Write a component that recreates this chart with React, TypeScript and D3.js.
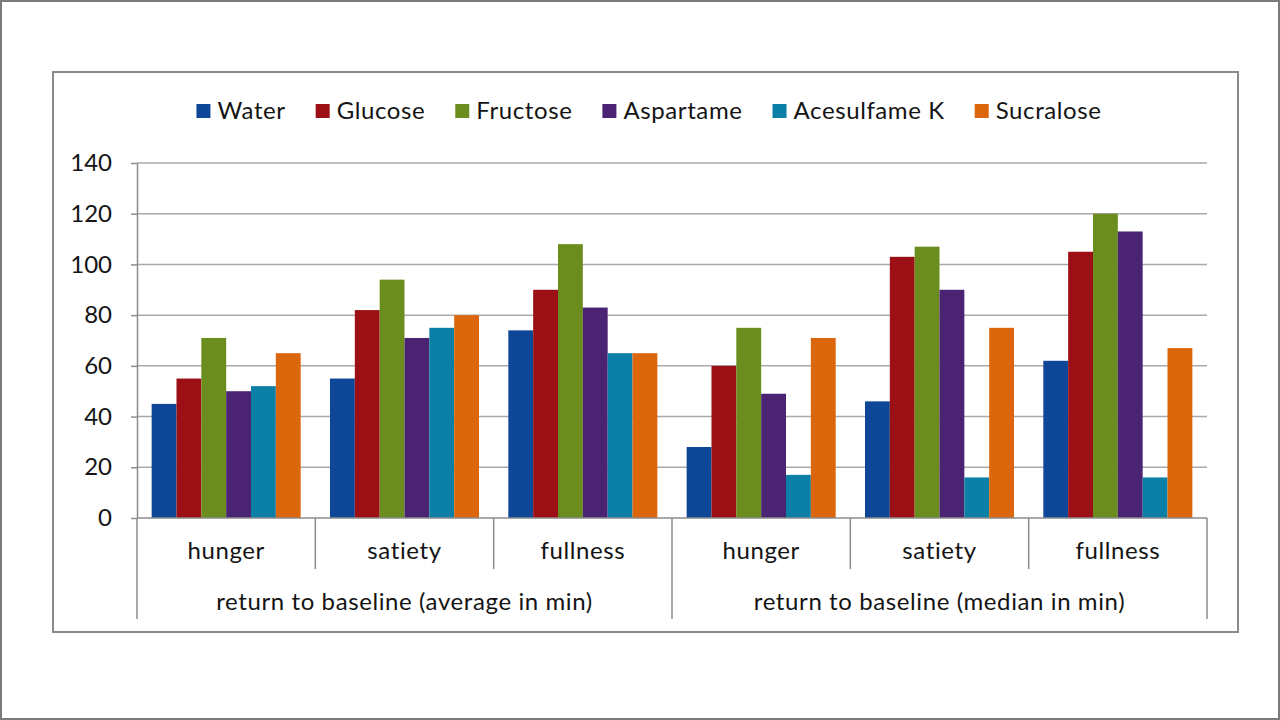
import { useEffect, useRef } from "react";
import * as d3 from "d3";

const series = ["Water", "Glucose", "Fructose", "Aspartame", "Acesulfame K", "Sucralose"];
const colors = ["#0f4798", "#9c0f14", "#6a8d1e", "#4a2472", "#0c7fa6", "#dc660b"];

const categories = ["hunger", "satiety", "fullness", "hunger", "satiety", "fullness"];
const groups = ["return to baseline (average in min)", "return to baseline (median in min)"];

// one array per series, same order as categories
const water = [45, 55, 74, 28, 46, 62];
const glucose = [55, 82, 90, 60, 103, 105];
const fructose = [71, 94, 108, 75, 107, 120];
const aspartame = [50, 71, 83, 49, 90, 113];
const acesulfame = [52, 75, 65, 17, 16, 16];
const sucralose = [65, 80, 65, 71, 75, 67];

const yTicks = [0, 20, 40, 60, 80, 100, 120, 140];

const FONT = "Lato, 'Open Sans', sans-serif";
const TEXT = "#141414";
const GRID = "#a9a9a9";
const AXIS = "#8c8c8c";
const FS = 24;
const LS = "0.6px";

export default function App() {
  const ref = useRef<SVGSVGElement>(null);

  useEffect(() => {
    if (!ref.current) return;
    const svg = d3.select(ref.current);
    svg.selectAll("*").remove();

    const W = 1280;
    const H = 720;
    const left = 137;
    const right = 1207;
    const top = 163;
    const bottom = 518;

    const values = [water, glucose, fructose, aspartame, acesulfame, sucralose];
    const rows = categories.map((c, i) => ({
      key: i,
      cat: c,
      vals: series.map((s, j) => ({ s, v: values[j][i], c: colors[j] })),
    }));

    // outer image border + chart frame
    svg.append("rect").attr("x", 1).attr("y", 1).attr("width", W - 2).attr("height", H - 2)
      .attr("fill", "#fff").attr("stroke", "#7a7a7a").attr("stroke-width", 2);
    svg.append("rect").attr("x", 53).attr("y", 72).attr("width", 1185).attr("height", 560)
      .attr("fill", "#fff").attr("stroke", "#8a8a8a").attr("stroke-width", 2);

    const x0 = d3.scaleBand<number>().domain(rows.map((r) => r.key)).range([left, right]);
    const x1 = d3.scaleBand<string>().domain(series).range([0, x0.bandwidth()])
      .paddingInner(0).paddingOuter(0.59);
    const y = d3.scaleLinear().domain([0, 140]).range([bottom, top]);

    // gridlines
    svg.append("g").selectAll("line").data(yTicks.slice(1)).join("line")
      .attr("x1", left).attr("x2", right)
      .attr("y1", (d) => y(d)).attr("y2", (d) => y(d))
      .attr("stroke", GRID).attr("stroke-width", 1.5);

    // bars
    svg.append("g").selectAll("g").data(rows).join("g")
      .attr("transform", (d) => `translate(${x0(d.key)},0)`)
      .selectAll("rect").data((d) => d.vals).join("rect")
      .attr("x", (d) => x1(d.s)!)
      .attr("width", x1.bandwidth())
      .attr("y", (d) => y(d.v))
      .attr("height", (d) => y(0) - y(d.v))
      .attr("fill", (d) => d.c);

    // y axis
    const yAxis = svg.append("g").attr("transform", `translate(${left},0)`)
      .call(d3.axisLeft(y).tickValues(yTicks).tickSize(6).tickPadding(19).tickSizeOuter(0));
    yAxis.select(".domain").attr("stroke", AXIS).attr("stroke-width", 1.5);
    yAxis.selectAll(".tick line").attr("stroke", AXIS).attr("stroke-width", 1.5);
    yAxis.selectAll("text").attr("font-family", FONT).attr("font-size", FS).attr("fill", TEXT);

    // x axis baseline
    svg.append("line").attr("x1", left).attr("x2", right).attr("y1", bottom).attr("y2", bottom)
      .attr("stroke", AXIS).attr("stroke-width", 1.5);

    // category dividers
    const bounds = d3.range(categories.length + 1).map((i) =>
      i < categories.length ? x0(i)! : x0(categories.length - 1)! + x0.bandwidth());
    svg.append("g").selectAll("line").data(bounds).join("line")
      .attr("x1", (d) => d).attr("x2", (d) => d)
      .attr("y1", bottom)
      .attr("y2", (_, i) => (i % 3 === 0 ? 619 : 569))
      .attr("stroke", AXIS).attr("stroke-width", 1.5);

    svg.append("g").selectAll("text").data(rows).join("text")
      .attr("x", (d) => x0(d.key)! + x0.bandwidth() / 2)
      .attr("y", 559)
      .attr("text-anchor", "middle")
      .attr("font-family", FONT).attr("font-size", FS).attr("letter-spacing", LS).attr("fill", TEXT)
      .text((d) => d.cat);

    svg.append("g").selectAll("text").data(groups).join("text")
      .attr("x", (_, i) => (bounds[i * 3] + bounds[i * 3 + 3]) / 2)
      .attr("y", 610)
      .attr("text-anchor", "middle")
      .attr("font-family", FONT).attr("font-size", FS).attr("letter-spacing", LS).attr("fill", TEXT)
      .text((d) => d);

    // legend, centred on the frame
    const GAP = 30;
    const legend = svg.append("g");
    let cx = 0;
    series.forEach((s, i) => {
      const item = legend.append("g").attr("transform", `translate(${cx},0)`);
      item.append("rect").attr("x", 0).attr("y", -7).attr("width", 14).attr("height", 14)
        .attr("fill", colors[i]);
      const t = item.append("text").attr("x", 21).attr("y", 8)
        .attr("font-family", FONT).attr("font-size", FS).attr("letter-spacing", LS)
        .attr("fill", TEXT).text(s);
      const w = (t.node() as SVGTextElement).getComputedTextLength();
      cx += 21 + w + GAP;
    });
    const legendW = cx - GAP;
    legend.attr("transform", `translate(${649 - legendW / 2},111)`);
  }, []);

  return (
    <div style={{ position: "absolute", left: 0, top: 0 }}>
      <svg ref={ref} width={1280} height={720} style={{ display: "block" }} />
    </div>
  );
}
